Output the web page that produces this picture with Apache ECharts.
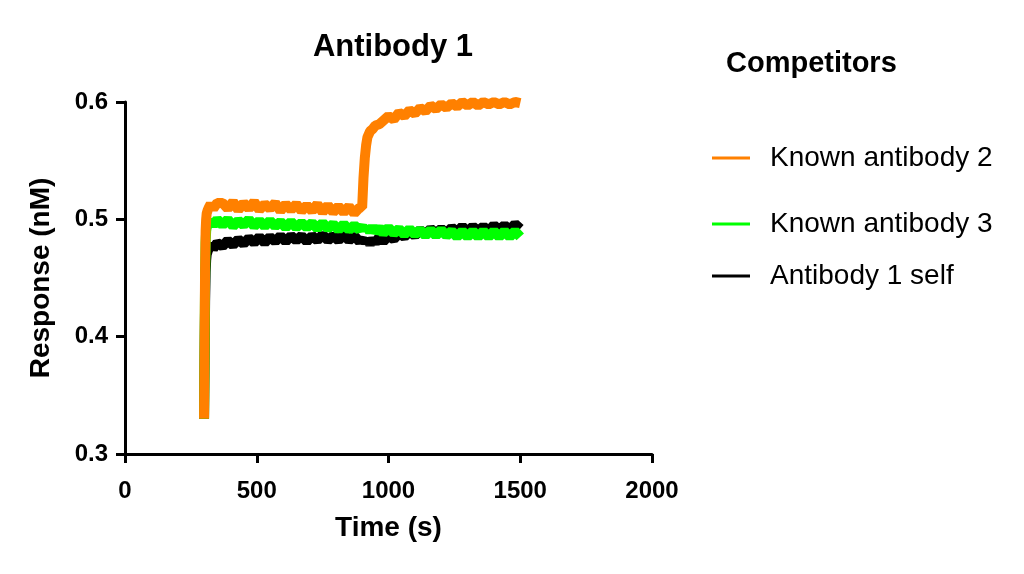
<!DOCTYPE html>
<html>
<head>
<meta charset="utf-8">
<script src="https://cdn.jsdelivr.net/npm/echarts@6/dist/echarts.min.js"></script>
<style>
html,body{margin:0;padding:0;background:#fff;}
#chart{width:1024px;height:574px;}
</style>
</head>
<body>
<div id="chart"></div>
<script>
// ---- data ----
const timeS = [300,302,304,306,308,310,314,318,325,335,350,
  370,390,410,430,450,470,490,510,530,550,570,590,610,630,650,670,690,710,730,750,770,790,810,830,850,870,890,
  900,905,910,915,920,930,940,950,965,980,
  1000,1020,1040,1060,1080,1100,1120,1140,1160,1180,1200,1220,1240,1260,1280,1300,1320,1340,1360,1380,1400,1420,1440,1460,1480,1500];

const knownAb2 = [0.330,0.400,0.460,0.490,0.500,0.505,0.508,0.510,0.513,0.509,0.514,
  0.514,0.509,0.515,0.508,0.514,0.509,0.515,0.508,0.513,0.509,0.514,0.507,0.513,0.508,0.513,0.507,0.512,0.507,0.513,0.506,0.512,0.506,0.511,0.506,0.511,0.505,0.510,
  0.510,0.535,0.552,0.563,0.570,0.575,0.577,0.580,0.581,0.584,
  0.588,0.585,0.591,0.588,0.593,0.590,0.595,0.592,0.597,0.594,0.598,0.595,0.599,0.596,0.600,0.597,0.600,0.597,0.600,0.598,0.600,0.598,0.600,0.598,0.600,0.599];

const knownAb3 = [0.330,0.390,0.450,0.480,0.490,0.493,0.495,0.496,0.499,0.495,0.500,
  0.495,0.500,0.494,0.499,0.495,0.500,0.494,0.499,0.494,0.499,0.494,0.498,0.493,0.498,0.493,0.497,0.493,0.497,0.492,0.497,0.492,0.496,0.491,0.496,0.491,0.495,0.491,
  0.495,0.490,0.494,0.490,0.494,0.489,0.494,0.489,0.493,0.488,
  0.493,0.488,0.492,0.487,0.492,0.487,0.491,0.486,0.491,0.486,0.491,0.486,0.490,0.485,0.490,0.485,0.490,0.485,0.490,0.485,0.490,0.485,0.490,0.485,0.490,0.485];

const ab1Self = [0.330,0.380,0.430,0.455,0.465,0.470,0.473,0.475,0.479,0.475,0.480,
  0.477,0.482,0.478,0.483,0.479,0.484,0.480,0.485,0.480,0.485,0.481,0.486,0.481,0.486,0.482,0.486,0.481,0.486,0.482,0.487,0.482,0.486,0.482,0.487,0.482,0.486,0.481,
  0.484,0.480,0.484,0.479,0.483,0.479,0.483,0.480,0.485,0.481,
  0.486,0.483,0.488,0.485,0.490,0.486,0.491,0.487,0.492,0.488,0.492,0.488,0.493,0.489,0.494,0.489,0.494,0.490,0.494,0.490,0.495,0.491,0.495,0.491,0.496,0.492];

const xTicks = [0, 500, 1000, 1500, 2000];
const yTicks = [0.3, 0.4, 0.5, 0.6];
const seriesNames = ['Known antibody 2', 'Known antibody 3', 'Antibody 1 self'];
const seriesColors = ['#FF8000', '#00FF00', '#000000'];

// ---- chart ----
const pairs = arr => timeS.map((t, i) => [t, arr[i]]);
const FONT = 'Liberation Sans';
const chart = echarts.init(document.getElementById('chart'), null, {renderer: 'canvas'});

function mkSeries(idx, values) {
  return {
    name: seriesNames[idx], type: 'line', data: pairs(values),
    symbol: 'none', showSymbol: false, clip: false,
    lineStyle: {color: seriesColors[idx], width: 10},
    itemStyle: {color: seriesColors[idx]},
    animation: false
  };
}

function mkLegend(idx, top) {
  return {
    data: [seriesNames[idx]], left: 712, top: top, orient: 'vertical', padding: 0,
    itemWidth: 38, itemHeight: 14, icon: 'path://M0,6 L38,6 L38,9 L0,9 Z',
    itemStyle: {color: seriesColors[idx]},
    textStyle: {fontFamily: FONT, fontSize: 28, color: '#000', padding: [0, 0, 0, 15], lineHeight: 30},
    selectedMode: false
  };
}

chart.setOption({
  animation: false,
  backgroundColor: '#fff',
  title: [
    {text: 'Antibody 1', left: 388, top: 27, textAlign: 'center',
     textStyle: {fontFamily: FONT, fontWeight: 'bold', fontSize: 31, color: '#000'}},
    {text: 'Competitors', left: 721, top: 44,
     textStyle: {fontFamily: FONT, fontWeight: 'bold', fontSize: 29, color: '#000'}}
  ],
  legend: [mkLegend(0, 143), mkLegend(1, 209), mkLegend(2, 261)],
  grid: {left: 125, right: 372, top: 102, bottom: 120, containLabel: false},
  xAxis: {
    type: 'value', min: xTicks[0], max: xTicks[xTicks.length - 1], interval: 500,
    name: 'Time (s)', nameLocation: 'middle', nameGap: 60,
    nameTextStyle: {fontFamily: FONT, fontWeight: 'bold', fontSize: 28, color: '#000'},
    axisLine: {onZero: false, lineStyle: {color: '#000', width: 3}},
    axisTick: {show: true, length: 9, lineStyle: {color: '#000', width: 3}},
    axisLabel: {fontFamily: FONT, fontWeight: 'bold', fontSize: 24, color: '#000', margin: 25,
      formatter: v => String(v)},
    splitLine: {show: false}
  },
  yAxis: {
    type: 'value', min: yTicks[0], max: yTicks[yTicks.length - 1], interval: 0.1,
    name: 'Response (nM)', nameLocation: 'middle', nameGap: 70, nameRotate: 90,
    nameTextStyle: {fontFamily: FONT, fontWeight: 'bold', fontSize: 28, color: '#000'},
    axisLine: {show: true, onZero: false, lineStyle: {color: '#000', width: 3}},
    axisTick: {show: true, length: 9, lineStyle: {color: '#000', width: 3}},
    axisLabel: {fontFamily: FONT, fontWeight: 'bold', fontSize: 24, color: '#000', margin: 17,
      formatter: v => v.toFixed(1)},
    splitLine: {show: false}
  },
  series: [mkSeries(2, ab1Self), mkSeries(1, knownAb3), mkSeries(0, knownAb2)]
});
</script>
</body>
</html>
